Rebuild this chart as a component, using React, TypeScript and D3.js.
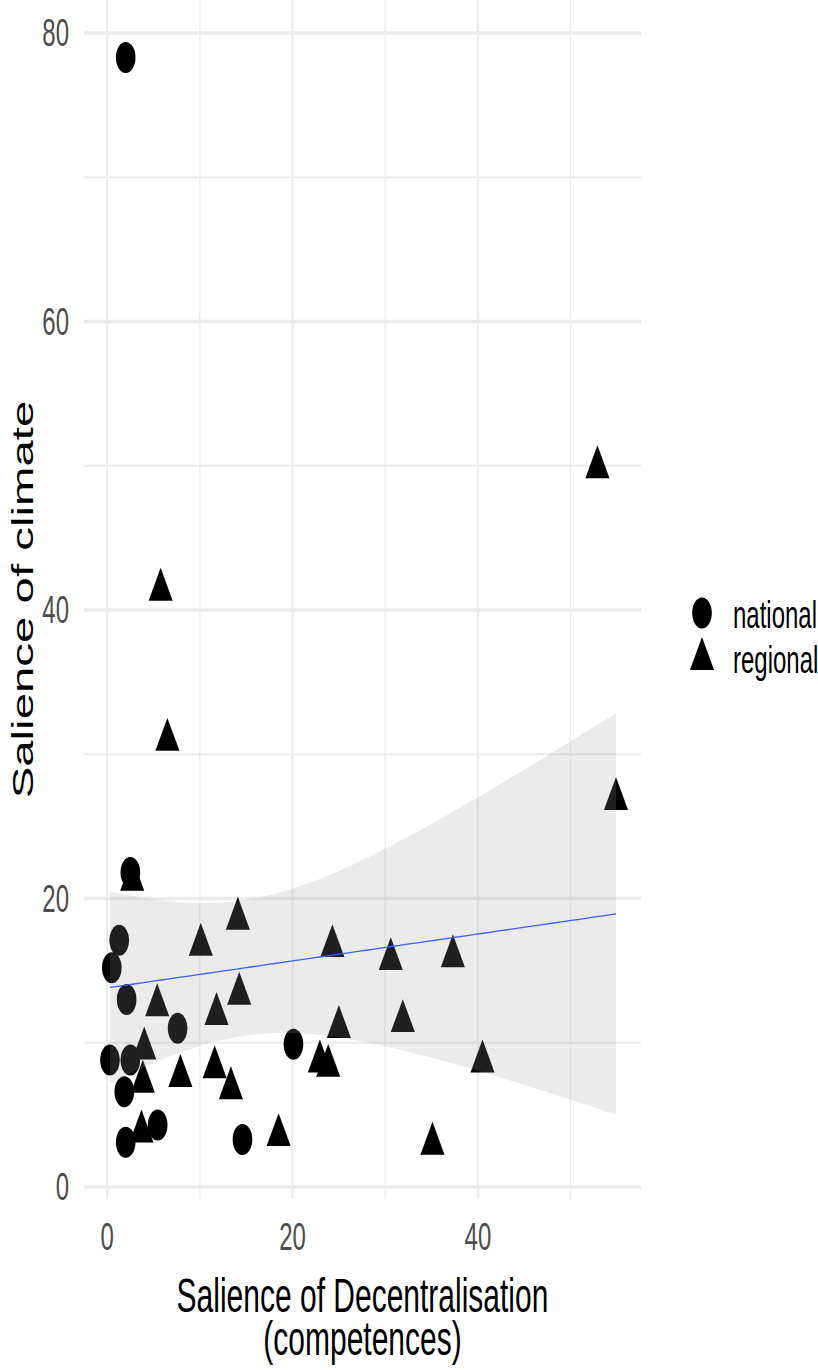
import React from "react";
import * as d3 from "d3";

const width = 818;
const height = 1370;
// the original picture is stretched vertically
const stretch = 1.58;

const nationalX = [2.0, 2.5, 1.3, 0.5, 2.1, 7.6, 0.3, 2.5, 1.85, 2.0, 5.45, 14.6, 20.1];
const nationalY = [78.3, 21.8, 17.1, 15.2, 13.0, 11.0, 8.8, 8.8, 6.6, 3.1, 4.3, 3.3, 9.9];

const regionalX = [
  2.7, 14.1, 10.1, 5.4, 14.25, 11.8, 4.0, 3.85, 7.9, 11.6, 13.35, 3.7, 18.5,
  22.95, 23.85, 24.3, 25.0, 30.6, 37.3, 31.9, 40.5, 35.1, 52.9, 54.9, 5.77, 6.5
];
const regionalY = [
  21.3, 18.6, 16.8, 12.6, 13.4, 12.0, 9.6, 7.3, 7.7, 8.3, 6.85, 3.85, 3.6,
  8.7, 8.4, 16.7, 11.1, 15.8, 16.0, 11.5, 8.7, 3.0, 49.9, 26.9, 41.4, 31.0
];

const groups = ["national", "regional"];
const xTicks = [0, 20, 40];
const xMinor = [10, 30, 50];
const yTicks = [0, 20, 40, 60, 80];
const yMinor = [10, 30, 50, 70];

const xTitle = ["Salience of Decentralisation", "(competences)"];
const yTitle = "Salience of climate";

const font = "'Liberation Sans', Arial, sans-serif";

const x = d3.scaleLinear().domain([-2.5, 57.6]).range([84, 641]);
const y = d3.scaleLinear().domain([-0.83, 82.29]).range([1199, 0]);

const circle = d3.symbol().type(d3.symbolCircle).size(302)()!;
const triangle = d3.symbol().type(d3.symbolTriangle).size(251)()!;
const shapes: Record<string, string> = { national: circle, regional: triangle };

// linear fit with 95% band, like geom_smooth(method = "lm")
const allX = [...nationalX, ...regionalX];
const allY = [...nationalY, ...regionalY];
const n = allX.length;
const mx = d3.mean(allX)!;
const my = d3.mean(allY)!;
const sxx = d3.sum(allX, (v) => (v - mx) ** 2);
const sxy = d3.sum(allX, (v, i) => (v - mx) * (allY[i] - my));
const slope = sxy / sxx;
const intercept = my - slope * mx;
const se = Math.sqrt(d3.sum(allX, (v, i) => (allY[i] - intercept - slope * v) ** 2) / (n - 2));
const tCrit = 2.026; // t(0.975, n - 2)
const [xMin, xMax] = d3.extent(allX) as [number, number];
const fit = d3.range(80).map((i) => {
  const xv = xMin + ((xMax - xMin) * i) / 79;
  const yv = intercept + slope * xv;
  const h = tCrit * se * Math.sqrt(1 / n + (xv - mx) ** 2 / sxx);
  return { x: xv, y: yv, lo: yv - h, hi: yv + h };
});

const band = d3
  .area<{ x: number; lo: number; hi: number }>()
  .x((d) => x(d.x))
  .y0((d) => y(d.lo))
  .y1((d) => y(d.hi));
const line = d3
  .line<{ x: number; y: number }>()
  .x((d) => x(d.x))
  .y((d) => y(d.y));

const Txt = ({ tx, ty, size, anchor, fill, rotate, children }: any) => (
  <g transform={`translate(${tx},${ty}) scale(1,${stretch})${rotate ? " rotate(-90)" : ""}`}>
    <text fontFamily={font} fontSize={size} textAnchor={anchor} fill={fill}>
      {children}
    </text>
  </g>
);

export default function App() {
  const [left, right] = x.range();
  const [bottom, top] = y.range();
  const points = [
    ...nationalX.map((v, i) => ({ g: "national", x: v, y: nationalY[i] })),
    ...regionalX.map((v, i) => ({ g: "regional", x: v, y: regionalY[i] }))
  ];

  return (
    <svg width={width} height={height} style={{ display: "block", position: "absolute", left: 0, top: 0 }}>
      <rect width={width} height={height} fill="#fff" />
      {/* grid */}
      {yMinor.map((t) => (
        <line key={"ym" + t} x1={left} x2={right} y1={y(t)} y2={y(t)} stroke="#EBEBEB" strokeWidth={2} />
      ))}
      {xMinor.map((t) => (
        <line key={"xm" + t} x1={x(t)} x2={x(t)} y1={top} y2={bottom} stroke="#EBEBEB" strokeWidth={1.3} />
      ))}
      {yTicks.map((t) => (
        <line key={"y" + t} x1={left} x2={right} y1={y(t)} y2={y(t)} stroke="#EBEBEB" strokeWidth={3.4} />
      ))}
      {xTicks.map((t) => (
        <line key={"x" + t} x1={x(t)} x2={x(t)} y1={top} y2={bottom} stroke="#EBEBEB" strokeWidth={2.1} />
      ))}

      {/* points */}
      {points.map((p, i) => (
        <path
          key={i}
          d={shapes[p.g]}
          transform={`translate(${x(p.x)},${y(p.y)}) scale(1,${stretch})`}
          fill="#000"
        />
      ))}

      {/* smooth */}
      <path d={band(fit)!} fill="#999999" fillOpacity={0.2} />
      <path d={line(fit)!} fill="none" stroke="#3366FF" strokeWidth={1.3} />

      {/* axis labels */}
      {yTicks.map((t) => (
        <Txt key={"yl" + t} tx={69} ty={y(t) + 13} size={24} anchor="end" fill="#4D4D4D">
          {t}
        </Txt>
      ))}
      {xTicks.map((t) => (
        <Txt key={"xl" + t} tx={x(t)} ty={1250} size={24} anchor="middle" fill="#4D4D4D">
          {t}
        </Txt>
      ))}

      {/* titles */}
      <Txt tx={(left + right) / 2} ty={1312} size={30} anchor="middle" fill="#000">
        {xTitle[0]}
      </Txt>
      <Txt tx={(left + right) / 2} ty={1355} size={30} anchor="middle" fill="#000">
        {xTitle[1]}
      </Txt>
      <Txt tx={33} ty={(top + bottom) / 2} size={30} anchor="middle" fill="#000" rotate>
        {yTitle}
      </Txt>

      {/* legend */}
      {groups.map((g, i) => (
        <g key={g}>
          <path d={shapes[g]} transform={`translate(702,${613 + i * 46}) scale(1,${stretch})`} fill="#000" />
          <Txt tx={733} ty={628 + i * 45} size={24} anchor="start" fill="#000">
            {g}
          </Txt>
        </g>
      ))}
    </svg>
  );
}
